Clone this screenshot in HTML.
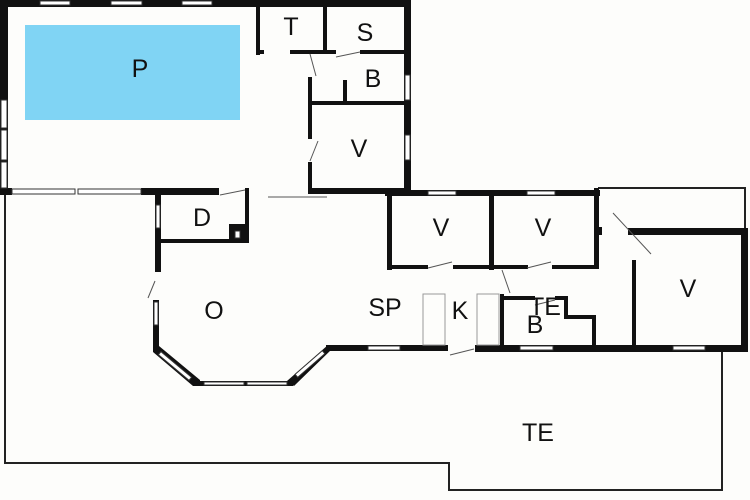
<!DOCTYPE html>
<html><head><meta charset="utf-8"><style>
html,body{margin:0;padding:0;background:#fdfdfb;}
svg{display:block}
text{font-family:"Liberation Sans",sans-serif;font-size:25px;fill:#111;text-anchor:middle;}
</style></head><body>
<svg width="750" height="500" viewBox="0 0 750 500" xmlns="http://www.w3.org/2000/svg">
<rect width="750" height="500" fill="#fdfdfb"/>
<!-- terrace outlines -->
<g fill="none" stroke="#222" stroke-width="2">
<polyline points="5,195 5,463 449,463 449,490 722,490 722,350"/>
<polyline points="598,188 745,188 745,229"/>
</g>
<!-- pool -->
<rect x="25" y="25" width="215" height="95" fill="#80d4f4"/>
<g fill="#111">
<!-- top wall -->
<rect x="0" y="0" width="411" height="7"/>
<rect x="0" y="0" width="8" height="195"/>
<rect x="404" y="0" width="7" height="195"/>
<!-- bottom of pool hall -->
<rect x="0" y="188" width="12" height="7"/>
<rect x="141" y="188" width="78" height="7"/>
<rect x="308" y="188" width="103" height="6"/>
<!-- T/S -->
<rect x="256" y="5" width="4" height="50"/>
<rect x="256" y="50" width="8" height="4"/>
<rect x="290" y="50" width="46" height="4"/>
<rect x="323" y="5" width="4" height="48"/>
<rect x="360" y="50" width="47" height="4"/>
<!-- B and V upper -->
<rect x="308" y="77" width="4" height="62"/>
<rect x="308" y="162" width="4" height="30"/>
<rect x="343" y="80" width="4" height="23"/>
<rect x="310" y="101" width="97" height="4"/>
<!-- D room -->
<rect x="155" y="188" width="6" height="84"/>
<rect x="245" y="188" width="4" height="55"/>
<rect x="159" y="239" width="90" height="4"/>
<rect x="229" y="224" width="20" height="19"/>
<!-- O -->
<rect x="153" y="300" width="6" height="50"/>
<polygon points="153,348 159,346 200,380 200,386 193,386 153,352"/>
<rect x="193" y="381" width="100" height="5"/>
<polygon points="287,381 328,345 332,349 294,386"/>
<rect x="326" y="345" width="122" height="6"/>
<rect x="475" y="345" width="273" height="7"/>
<!-- V row -->
<rect x="385" y="190" width="215" height="6"/>
<rect x="387" y="190" width="5" height="80"/>
<rect x="489" y="190" width="5" height="80"/>
<rect x="594" y="188" width="5" height="81"/>
<rect x="597" y="227" width="5" height="8"/>
<rect x="387" y="265" width="41" height="4"/>
<rect x="453" y="265" width="75" height="4"/>
<rect x="552" y="265" width="47" height="4"/>
<!-- B/TE -->
<rect x="500" y="294" width="4" height="54"/>
<rect x="500" y="296" width="35" height="4"/>
<rect x="555" y="296" width="13" height="4"/>
<rect x="564" y="296" width="4" height="22"/>
<rect x="564" y="315" width="32" height="4"/>
<rect x="592" y="315" width="4" height="33"/>
<!-- right V -->
<rect x="628" y="228" width="120" height="7"/>
<rect x="741" y="228" width="7" height="124"/>
<rect x="632" y="260" width="4" height="88"/>
</g>
<!-- windows -->
<g fill="#fff" stroke="#333" stroke-width="1">
<rect x="40" y="1" width="30" height="4"/>
<rect x="111" y="1" width="31" height="4"/>
<rect x="182" y="1" width="30" height="4"/>
<rect x="1" y="100" width="6" height="28"/>
<rect x="1" y="130" width="6" height="30"/>
<rect x="1" y="162" width="6" height="26"/>
<rect x="12" y="189" width="63" height="5"/>
<rect x="78" y="189" width="63" height="5"/>
<rect x="405" y="75" width="5" height="25"/>
<rect x="405" y="135" width="5" height="25"/>
<rect x="156" y="205" width="4" height="23"/>
<rect x="154" y="302" width="4" height="23"/>
<rect x="204" y="382" width="40" height="3"/>
<rect x="247" y="382" width="40" height="3"/>
<rect x="368" y="346" width="32" height="4"/>
<rect x="428" y="191" width="28" height="4"/>
<rect x="527" y="191" width="28" height="4"/>
<rect x="520" y="346" width="33" height="4"/>
<rect x="673" y="346" width="32" height="4"/>
<rect x="235" y="231" width="5" height="7"/>
</g>
<g fill="#fff" stroke="#333" stroke-width="1" transform="rotate(40 175 366)"><rect x="155" y="364" width="40" height="4"/></g>
<g fill="#fff" stroke="#333" stroke-width="1" transform="rotate(-41 310 364)"><rect x="292" y="362" width="36" height="4"/></g>
<!-- counters -->
<g fill="none" stroke="#999" stroke-width="1">
<rect x="423" y="294" width="22" height="51"/>
<rect x="477" y="294" width="22" height="51"/>
</g>
<!-- door swings -->
<g stroke="#555" stroke-width="1">
<line x1="310" y1="54" x2="316" y2="76"/>
<line x1="336" y1="57" x2="360" y2="52"/>
<line x1="310" y1="161" x2="318" y2="141"/>
<line x1="220" y1="195" x2="245" y2="190"/>
<line x1="268" y1="197" x2="327" y2="197"/>
<line x1="148" y1="298" x2="155" y2="281"/>
<line x1="428" y1="268" x2="452" y2="262"/>
<line x1="527" y1="268" x2="551" y2="262"/>
<line x1="502" y1="270" x2="510" y2="293"/>
<line x1="613" y1="213" x2="651" y2="254"/>
<line x1="450" y1="355" x2="474" y2="349"/>
<line x1="535" y1="305" x2="555" y2="300"/>
</g>
<text x="140" y="77">P</text>
<text x="291" y="35">T</text>
<text x="365" y="41">S</text>
<text x="373" y="87">B</text>
<text x="359" y="157">V</text>
<text x="202" y="226">D</text>
<text x="441" y="236">V</text>
<text x="543" y="236">V</text>
<text x="688" y="297">V</text>
<text x="214" y="319">O</text>
<text x="385" y="316">SP</text>
<text x="460" y="319">K</text>
<text x="545" y="315">TE</text>
<text x="535" y="333">B</text>
<text x="538" y="441">TE</text>
</svg>
</body></html>
